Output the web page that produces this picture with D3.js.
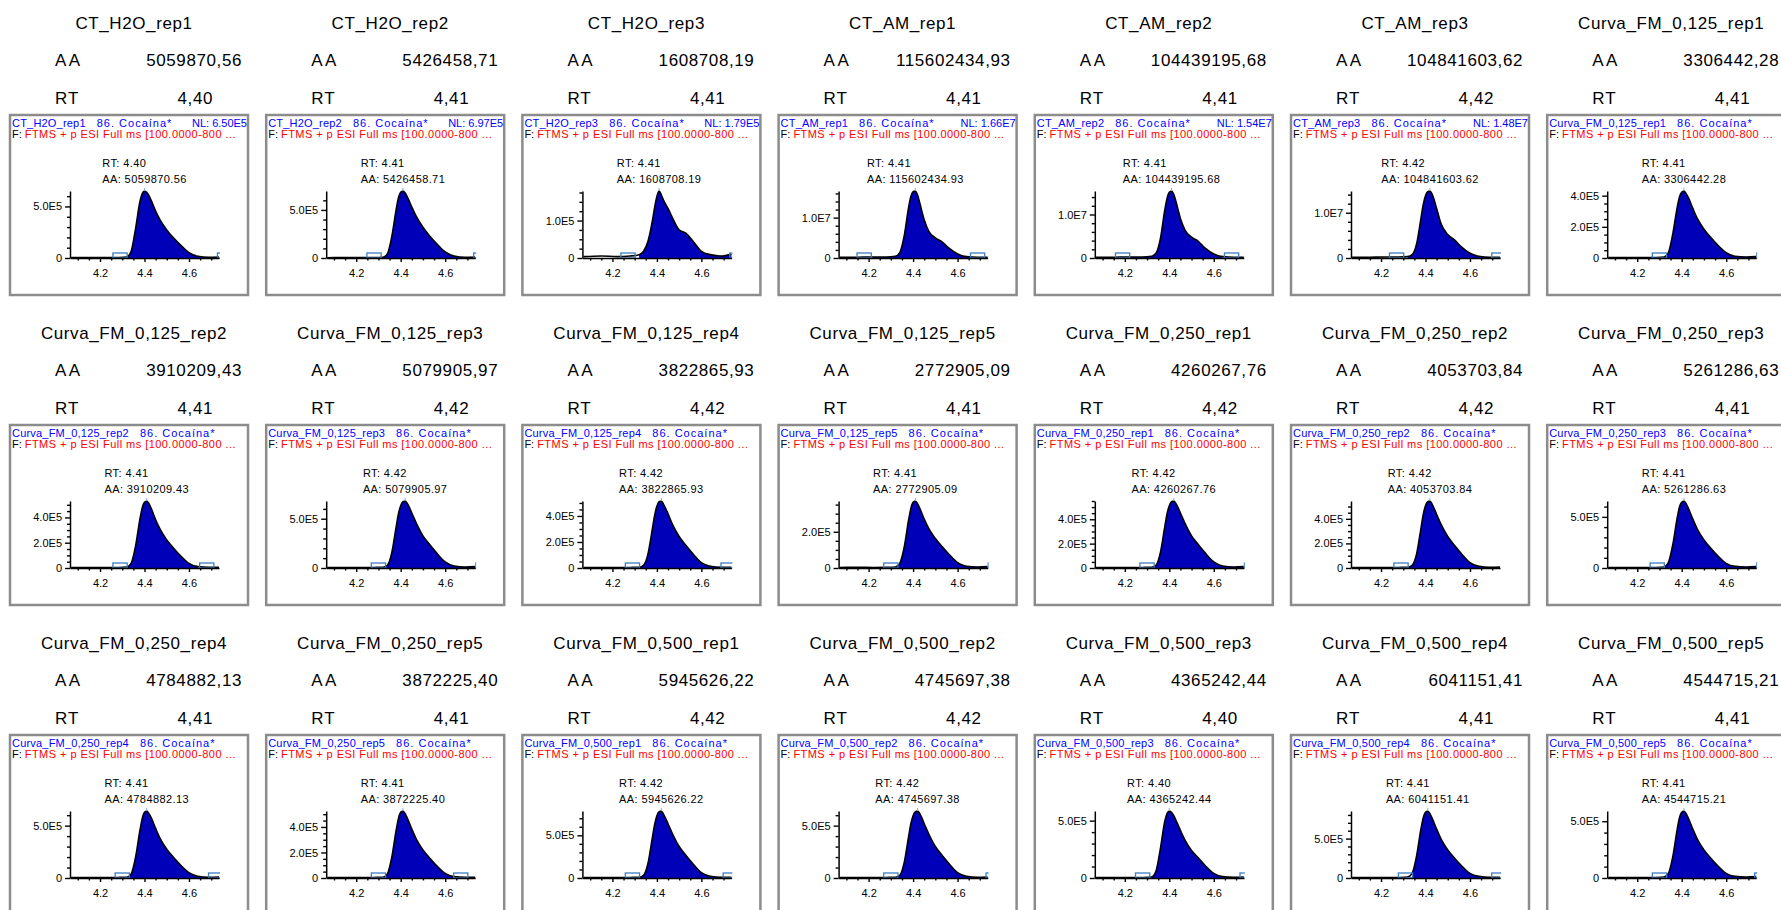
<!DOCTYPE html>
<html><head><meta charset="utf-8">
<script src="https://cdn.jsdelivr.net/npm/d3@7"></script>
<style>
body{margin:0;background:#fff;}
svg{display:block;font-family:"Liberation Sans",Arial,sans-serif;}
</style>
</head><body>
<svg id="c" width="1781" height="910"></svg>
<script>
// ---------------- DATA ----------------
const sampleNames = [
  "CT_H2O_rep1","CT_H2O_rep2","CT_H2O_rep3","CT_AM_rep1","CT_AM_rep2","CT_AM_rep3","Curva_FM_0,125_rep1",
  "Curva_FM_0,125_rep2","Curva_FM_0,125_rep3","Curva_FM_0,125_rep4","Curva_FM_0,125_rep5","Curva_FM_0,250_rep1","Curva_FM_0,250_rep2","Curva_FM_0,250_rep3",
  "Curva_FM_0,250_rep4","Curva_FM_0,250_rep5","Curva_FM_0,500_rep1","Curva_FM_0,500_rep2","Curva_FM_0,500_rep3","Curva_FM_0,500_rep4","Curva_FM_0,500_rep5"
];
const areaValues = [
  5059870.56, 5426458.71, 1608708.19, 115602434.93, 104439195.68, 104841603.62, 3306442.28,
  3910209.43, 5079905.97, 3822865.93, 2772905.09, 4260267.76, 4053703.84, 5261286.63,
  4784882.13, 3872225.40, 5945626.22, 4745697.38, 4365242.44, 6041151.41, 4544715.21
];
const rtValues = [
  4.40, 4.41, 4.41, 4.41, 4.41, 4.42, 4.41,
  4.41, 4.42, 4.42, 4.41, 4.42, 4.42, 4.41,
  4.41, 4.41, 4.42, 4.42, 4.40, 4.41, 4.41
];
const nlValues = [
  6.50e5, 6.97e5, 1.79e5, 1.66e7, 1.54e7, 1.48e7, 4.30e5,
  5.30e5, 6.80e5, 5.15e5, 3.70e5, 5.50e5, 5.45e5, 6.55e5,
  6.40e5, 5.25e5, 7.85e5, 6.40e5, 5.84e5, 8.50e5, 5.90e5
];
const yMajorSteps = [
  5e5, 5e5, 1e5, 1e7, 1e7, 1e7, 2e5,
  2e5, 5e5, 2e5, 2e5, 2e5, 2e5, 5e5,
  5e5, 2e5, 5e5, 5e5, 5e5, 5e5, 5e5
];
const yMinorSteps = [
  1e5, 1e5, 2.5e4, 2e6, 2e6, 2e6, 5e4,
  5e4, 1e5, 5e4, 5e4, 5e4, 5e4, 1e5,
  1e5, 5e4, 1e5, 1e5, 1e5, 1e5, 1e5
];
const markerLeft = [
  4.29, 4.28, 4.27, 4.18, 4.19, 4.27, 4.30,
  4.29, 4.30, 4.29, 4.30, 4.30, 4.29, 4.29,
  4.30, 4.30, 4.29, 4.30, 4.28, 4.31, 4.30
];
const markerRight = [
  4.76, 4.76, 4.76, 4.69, 4.68, 4.73, 4.77,
  4.68, 4.77, 4.72, 4.77, 4.77, 4.78, 4.77,
  4.72, 4.67, 4.73, 4.76, 4.75, 4.73, 4.76
];
// retention-time grid (min) at which the traces were read, intensities in % of NL
const rtGrid = [4.07,4.15,4.22,4.28,4.32,4.34,4.36,4.38,4.39,4.40,4.41,4.42,4.43,4.45,4.47,4.50,4.53,4.56,4.60,4.64,4.69,4.735];
const traceCT_H2O_rep1 = [0.5,0.8,0.5,0.8,1.5,10,44,85,96,100,98,93,86,70,57,42,30,20,8,2.5,1,1.5];
const traceCT_H2O_rep2 = [0.4,0.6,0.5,0.6,1,6,32,73,90,98,100,97,91,76,62,46,33,22,9,3,1,1.5];
const traceCT_H2O_rep3 = [2,3,2,3,5,10,25,56,76,92,100,94,86,74,60,42,37,26,10,5,3,6];
const traceCT_AM_rep1 = [1,1.2,1.5,1.5,2.5,8,33,76,92,99,100,94,82,57,40,30,24,15,6,2,1,1];
const traceCT_AM_rep2 = [1,1.2,1.5,1.5,2.5,7,29,72,89,98,100,95,84,59,42,31,25,15,6,2,1,1];
const traceCT_AM_rep3 = [1,1.2,1.5,1.5,2,5,21,60,80,93,99,100,95,74,51,35,27,17,7,2.5,1,1];
const traceFM0125_rep1 = [0.5,0.8,0.5,0.8,1.5,8,36,76,91,98,100,96,90,74,59,43,31,20,8,2.5,1.5,2];
const traceFM0125_rep2 = [0.5,0.5,0.5,0.8,1.5,7,33,74,90,98,100,96,89,72,58,42,30,19,7,2,1,1];
const traceFM0125_rep3 = [0.5,0.8,0.5,0.8,1.2,4,23,62,81,93,99,100,96,82,67,48,35,23,9,3,1.5,2];
const traceFM0125_rep4 = [0.5,0.8,0.5,0.8,1.2,4,21,59,79,92,99,100,95,81,65,47,34,22,8,2.5,1,1];
const traceFM0125_rep5 = [0.8,1,0.8,1,1.5,7,31,72,89,98,100,96,89,73,59,44,32,21,8,2.5,1.5,2];
const traceFM0250_rep1 = [0.5,0.8,0.5,0.8,1.2,4,23,62,81,93,99,100,96,82,67,48,35,23,9,3,1.5,2];
const traceFM0250_rep2 = [0.5,0.8,0.5,0.8,1.2,4,21,60,80,93,99,100,95,80,65,47,34,22,8,2.5,1,1.5];
const traceFM0250_rep3 = [0.5,0.8,0.5,0.8,1.5,8,35,75,91,98,100,96,89,73,58,42,30,19,7,2.5,1.5,2];
const traceFM0250_rep4 = [0.5,0.6,0.5,0.8,1.2,6,31,72,89,98,100,96,90,74,59,43,31,20,8,2.5,1,1.5];
const traceFM0250_rep5 = [0.5,0.6,0.5,0.8,1.2,6,31,72,89,98,100,96,89,73,58,42,30,19,7,2,1,1];
const traceFM0500_rep1 = [0.5,0.6,0.5,0.8,1.2,4,22,61,80,93,99,100,95,81,66,47,34,22,8,2.5,1,1];
const traceFM0500_rep2 = [0.5,0.6,0.5,0.8,1.2,4,23,62,81,93,99,100,96,81,66,47,34,22,8,2.5,1,1.5];
const traceFM0500_rep3 = [0.5,0.8,0.5,0.8,1.5,10,44,85,96,100,98,93,86,71,57,41,30,19,7,2,1,1.5];
const traceFM0500_rep4 = [0.5,0.6,0.5,0.8,1.5,7,33,74,90,98,100,96,89,73,58,42,30,19,7,2.5,1,1];
const traceFM0500_rep5 = [0.5,0.6,0.5,0.8,1.5,7,32,73,90,98,100,96,89,73,58,42,30,19,7,2.5,1.5,2];
const traces = [
  traceCT_H2O_rep1, traceCT_H2O_rep2, traceCT_H2O_rep3, traceCT_AM_rep1, traceCT_AM_rep2, traceCT_AM_rep3, traceFM0125_rep1,
  traceFM0125_rep2, traceFM0125_rep3, traceFM0125_rep4, traceFM0125_rep5, traceFM0250_rep1, traceFM0250_rep2, traceFM0250_rep3,
  traceFM0250_rep4, traceFM0250_rep5, traceFM0500_rep1, traceFM0500_rep2, traceFM0500_rep3, traceFM0500_rep4, traceFM0500_rep5
];
const xTickValues = [4.2, 4.4, 4.6];
const xMinorTickValues = [4.1,4.15,4.25,4.3,4.35,4.45,4.5,4.55,4.65,4.7];
const compoundLabel = "86. Cocaína*";
const filterLabel = "FTMS + p ESI Full ms [100.0000-800 ...";
const cellLabelArea = "AA";
const cellLabelRT = "RT";

// ---------------- LAYOUT ----------------
const svg = d3.select("#c");
const nCols = 7, colStep = 256.2, rowStep = 310, left0 = 10, top0 = 115;
const boxW = 238, boxH = 180;
const comma = d3.formatLocale({decimal: ",", thousands: ".", grouping: [3], currency: ["", ""]});
const fmtComma = comma.format(".2f");
const fmtDot = d3.format(".2f");
const fmtExp = v => v === 0 ? "0" : v.toExponential(1).replace("e+", "E");
const fmtNL = v => v.toExponential(2).replace("e+", "E");

const x = d3.scaleLinear().domain([4.065, 4.735]).range([60, 209]);
const defs = svg.append("defs");

sampleNames.forEach((name, i) => {
  const col = i % nCols, row = Math.floor(i / nCols);
  const g = svg.append("g").attr("transform", `translate(${left0 + col * colStep},${top0 + row * rowStep})`);

  // spreadsheet cells above the box
  g.append("text").attr("x", 124).attr("y", -86).attr("text-anchor", "middle")
    .attr("font-size", 17).attr("letter-spacing", 0.6).text(name);
  g.append("text").attr("x", 45).attr("y", -49).attr("font-size", 17).attr("letter-spacing", 2.5).text(cellLabelArea);
  g.append("text").attr("x", 232).attr("y", -49).attr("text-anchor", "end")
    .attr("font-size", 17).attr("letter-spacing", 0.6).text(fmtComma(areaValues[i]));
  g.append("text").attr("x", 45).attr("y", -11).attr("font-size", 17).attr("letter-spacing", 1).text(cellLabelRT);
  g.append("text").attr("x", 203).attr("y", -11).attr("text-anchor", "end")
    .attr("font-size", 17).attr("letter-spacing", 0.6).text(fmtComma(rtValues[i]));

  // frame
  g.append("rect").attr("x", 0).attr("y", 0).attr("width", boxW).attr("height", boxH)
    .attr("fill", "#fff").attr("stroke", "#8c8c8c").attr("stroke-width", 2.5);

  // header lines
  const hdrSize = 11;
  const nameT = g.append("text").attr("x", 2).attr("y", 12).attr("font-size", hdrSize)
    .attr("letter-spacing", 0.2).attr("fill", "#0000ff").text(name);
  const nameEnd = 2 + nameT.node().getComputedTextLength();
  const cocT = g.append("text").attr("x", nameEnd + 11).attr("y", 12).attr("font-size", hdrSize)
    .attr("letter-spacing", 1.0).attr("fill", "#0000ff").text(compoundLabel);
  const cocEnd = nameEnd + 11 + cocT.node().getComputedTextLength();
  const nlT = g.append("text").attr("x", 237).attr("y", 12).attr("text-anchor", "end").attr("font-size", hdrSize)
    .attr("fill", "#0000ff").text("NL: " + fmtNL(nlValues[i]));
  if (237 - nlT.node().getComputedTextLength() < cocEnd + 10) nlT.remove();
  const fT = g.append("text").attr("x", 2).attr("y", 22.5).attr("font-size", hdrSize).attr("fill", "#000").text("F:");
  g.append("text").attr("x", 2 + fT.node().getComputedTextLength() + 3).attr("y", 22.5)
    .attr("font-size", hdrSize).attr("fill", "#ff0000").attr("letter-spacing", 0.45).text(filterLabel);

  // scales
  const y = d3.scaleLinear().domain([0, nlValues[i]]).range([143, 76]);
  const pts = rtGrid.map((t, k) => ({t, v: traces[i][k] / 100 * nlValues[i]}));

  const clipId = "clip" + i;
  defs.append("clipPath").attr("id", clipId).append("rect")
    .attr("x", 59).attr("y", 60).attr("width", 151).attr("height", 90);
  const plot = g.append("g").attr("clip-path", `url(#${clipId})`);

  // peak fill & trace
  const area = d3.area().x(d => x(d.t)).y0(y(0)).y1(d => y(d.v)).curve(d3.curveMonotoneX);
  const line = d3.line().x(d => x(d.t)).y(d => y(d.v)).curve(d3.curveMonotoneX);
  const inPeak = pts.filter(d => d.t >= markerLeft[i] + 0.02 && d.t <= markerRight[i]);
  plot.append("path").datum(inPeak).attr("d", area).attr("fill", "#0000b8");
  plot.append("path").datum(pts).attr("d", line).attr("fill", "none")
    .attr("stroke", "#000").attr("stroke-width", 1.6).attr("stroke-linejoin", "round");

  // integration markers
  [markerLeft[i], markerRight[i]].forEach(m => {
    plot.append("rect").attr("x", x(m - 0.032)).attr("y", y(0) - 5)
      .attr("width", x(m + 0.032) - x(m - 0.032)).attr("height", 5)
      .attr("fill", "none").attr("stroke", "#3d7fc4").attr("stroke-width", 1.3);
  });
  // apex tick
  const apex = pts.reduce((a, b) => (b.v > a.v ? b : a));
  plot.append("line").attr("x1", x(apex.t)).attr("x2", x(apex.t))
    .attr("y1", y(apex.v) - 3).attr("y2", y(apex.v)).attr("stroke", "#7fb0e0").attr("stroke-width", 1);

  // axes
  const yMajors = d3.range(0, nlValues[i] + 1, yMajorSteps[i]);
  const yMinors = d3.range(yMinorSteps[i], nlValues[i] + 1, yMinorSteps[i]).filter(v => Math.abs(v / yMajorSteps[i] - Math.round(v / yMajorSteps[i])) > 1e-6);
  const yAxis = g.append("g").attr("transform", "translate(60,0)")
    .call(d3.axisLeft(y).tickValues(yMajors).tickFormat(fmtExp).tickSize(5).tickSizeOuter(0).tickPadding(3));
  g.append("g").attr("transform", "translate(60,0)")
    .call(d3.axisLeft(y).tickValues(yMinors).tickFormat("").tickSize(3).tickSizeOuter(0))
    .call(a => a.select(".domain").remove());
  const xAxis = g.append("g").attr("transform", "translate(0,143)")
    .call(d3.axisBottom(x).tickValues(xTickValues).tickFormat(d3.format(".1f")).tickSize(4).tickSizeOuter(0).tickPadding(7));
  g.append("g").attr("transform", "translate(0,143)")
    .call(d3.axisBottom(x).tickValues(xMinorTickValues).tickFormat("").tickSize(2.5).tickSizeOuter(0))
    .call(a => a.select(".domain").remove());
  [yAxis, xAxis].forEach(a => {
    a.selectAll("text").attr("font-size", 11).attr("font-family", '"Liberation Sans",Arial,sans-serif').attr("fill", "#000");
    a.selectAll("path").attr("stroke", "#000").attr("stroke-width", 1.5);
  });
  g.selectAll(".tick line").attr("stroke", "#000").attr("stroke-width", 1.4);

  // peak label block (centered on apex, lines left-aligned)
  const lbl = g.append("g");
  const l1 = lbl.append("text").attr("y", 52).attr("font-size", 11).attr("letter-spacing", 0.4).text("RT: " + fmtDot(rtValues[i]));
  const l2 = lbl.append("text").attr("y", 68).attr("font-size", 11).attr("letter-spacing", 0.4).text("AA: " + fmtDot(areaValues[i]));
  const w = Math.max(l1.node().getComputedTextLength(), l2.node().getComputedTextLength());
  const lx = x(rtValues[i]) - w / 2;
  l1.attr("x", lx); l2.attr("x", lx);
});
</script>
</body></html>
